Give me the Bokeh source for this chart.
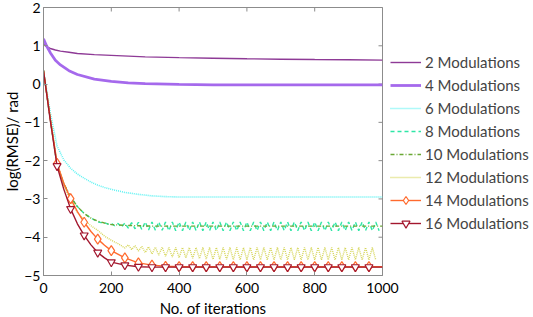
import math
from bokeh.plotting import figure
from bokeh.models import Range1d, FixedTicker, Legend, LegendItem
from bokeh.embed import file_html
from bokeh.resources import INLINE

# ---------------- data ----------------
x_top = [0, 5, 10, 20, 35, 50, 75, 100, 150, 200, 250, 300, 400, 500, 600, 700, 800, 900, 1000]
mod2 = [1.05, 1.00, 0.97, 0.93, 0.89, 0.86, 0.83, 0.80, 0.77, 0.75, 0.73, 0.71, 0.69, 0.675, 0.66, 0.65, 0.64, 0.635, 0.625]
mod4 = [1.18, 1.08, 0.98, 0.82, 0.62, 0.50, 0.35, 0.25, 0.13, 0.07, 0.03, 0.01, -0.01, -0.02, -0.02, -0.02, -0.02, -0.02, -0.02]

x6 = [0, 20, 40, 60, 80, 100, 120, 140, 160, 180, 200, 240, 280, 320, 360, 400, 500, 600, 700, 800, 900, 1000]
mod6 = [0.35, -0.75, -1.62, -1.98, -2.20, -2.35, -2.46, -2.56, -2.64, -2.70, -2.75, -2.83, -2.88, -2.92, -2.94, -2.95, -2.95, -2.95, -2.95, -2.95, -2.95, -2.95]

x8 = [0, 20, 40, 60, 80, 100, 120, 140, 150] + list(range(160, 1001, 10))
mod8 = [0.35, -0.92, -2.12, -2.62, -2.95, -3.20, -3.38, -3.50, -3.55,
        -3.60, -3.62, -3.62, -3.66, -3.64, -3.70, -3.64, -3.74, -3.63, -3.76,
        -3.62, -3.78, -3.61, -3.80, -3.60, -3.81, -3.60, -3.82, -3.60, -3.82,
        -3.60, -3.83, -3.60, -3.83, -3.60, -3.83, -3.60, -3.83, -3.60, -3.83,
        -3.60, -3.83, -3.60, -3.83, -3.60, -3.83, -3.60, -3.83, -3.60, -3.83,
        -3.60, -3.83, -3.60, -3.83, -3.60, -3.83, -3.60, -3.83, -3.60, -3.83,
        -3.60, -3.83, -3.60, -3.83, -3.60, -3.83, -3.60, -3.83, -3.60, -3.83,
        -3.60, -3.83, -3.60, -3.83, -3.60, -3.83, -3.60, -3.83, -3.60, -3.83,
        -3.60, -3.83, -3.60, -3.83, -3.60, -3.83, -3.60, -3.83, -3.60, -3.83,
        -3.60, -3.83, -3.60, -3.83]

x10 = [0, 20, 40, 60, 80, 100, 120, 140, 160, 180, 200, 240, 280, 320, 400, 500, 600, 700, 800, 900, 1000]
mod10 = [0.35, -0.92, -2.10, -2.60, -2.95, -3.20, -3.38, -3.50, -3.58, -3.63, -3.67, -3.69, -3.70, -3.71, -3.71, -3.71, -3.71, -3.71, -3.71, -3.71, -3.71]

x12 = [0, 20, 40, 60, 80, 100, 120, 140, 160, 180, 200, 220] + list(range(240, 1001, 10))
mod12 = [0.35, -0.90, -2.05, -2.65, -3.05, -3.35, -3.55, -3.70, -3.82, -3.97, -4.08, -4.17,
         -4.28, -4.20, -4.32, -4.22, -4.36, -4.24, -4.40, -4.25, -4.44, -4.26,
         -4.47, -4.26, -4.50, -4.27, -4.52, -4.27, -4.53, -4.27, -4.54, -4.27,
         -4.55, -4.27, -4.56, -4.27, -4.57, -4.27, -4.58, -4.27, -4.58, -4.27,
         -4.58, -4.27, -4.59, -4.27, -4.59, -4.27, -4.59, -4.27, -4.59, -4.27,
         -4.59, -4.27, -4.59, -4.27, -4.59, -4.27, -4.59, -4.27, -4.59, -4.27,
         -4.59, -4.27, -4.59, -4.27, -4.59, -4.27, -4.59, -4.27, -4.59, -4.27,
         -4.59, -4.27, -4.59, -4.27, -4.59, -4.27, -4.59, -4.27, -4.59, -4.27,
         -4.59, -4.27, -4.59, -4.27, -4.59]

x14 = [0, 20, 40, 60, 80, 100, 120, 140, 160, 180, 200, 240, 280, 320, 360, 400, 440, 480, 520, 560, 600, 640, 680, 720, 760, 800, 840, 880, 920, 960, 1000]
mod14 = [0.35, -0.90, -2.07, -2.60, -2.99, -3.33, -3.61, -3.85, -4.05, -4.21, -4.35, -4.54, -4.67, -4.73, -4.76, -4.77, -4.77, -4.77, -4.77, -4.77, -4.77, -4.77, -4.77, -4.77, -4.77, -4.77, -4.77, -4.77, -4.77, -4.77, -4.77]

x16 = [0, 20, 40, 60, 80, 100, 120, 140, 160, 180, 200, 240, 280, 320, 360, 400, 440, 480, 520, 560, 600, 640, 680, 720, 760, 800, 840, 880, 920, 960, 1000]
mod16 = [0.35, -0.95, -2.14, -2.75, -3.26, -3.65, -3.95, -4.20, -4.40, -4.54, -4.65, -4.73, -4.77, -4.78, -4.78, -4.78, -4.78, -4.78, -4.78, -4.78, -4.78, -4.78, -4.78, -4.78, -4.78, -4.78, -4.78, -4.78, -4.78, -4.78, -4.78]

marker_step = 40

labels = ["2 Modulations", "4 Modulations", "6 Modulations", "8 Modulations",
          "10 Modulations", "12 Modulations", "14 Modulations", "16 Modulations"]
x_ticks = [0, 200, 400, 600, 800, 1000]
y_ticks = [-5, -4, -3, -2, -1, 0, 1, 2]

FONT = "Lato"
AXC = "#8c8c8c"

p = figure(output_backend="svg", toolbar_location=None,
           frame_width=339, frame_height=268,
           min_border_left=0, min_border_top=7, min_border_bottom=0, min_border_right=0,
           x_range=Range1d(x_ticks[0], x_ticks[-1]), y_range=Range1d(y_ticks[0], y_ticks[-1]))
p.background_fill_color = "white"
p.xgrid.visible = False
p.ygrid.visible = False
p.outline_line_color = AXC
p.outline_line_width = 1

for ax in (p.xaxis[0], p.yaxis[0]):
    ax.axis_line_color = AXC
    ax.major_tick_line_color = AXC
    ax.major_tick_in = 4
    ax.major_tick_out = 0
    ax.minor_tick_line_color = None
    ax.major_label_text_font = FONT
    ax.major_label_text_font_size = "14px"
    ax.major_label_text_color = "black"
    ax.axis_label_text_font = FONT
    ax.axis_label_text_font_size = "15px"
    ax.axis_label_text_font_style = "normal"
    ax.axis_label_text_color = "black"
p.xaxis.ticker = FixedTicker(ticks=x_ticks)
p.yaxis.ticker = FixedTicker(ticks=y_ticks)
p.xaxis.axis_label = "No. of iterations"
p.yaxis.axis_label = "log(RMSE)/ rad"
p.xaxis.major_label_standoff = 7
p.xaxis.axis_label_standoff = 3
p.yaxis.major_label_standoff = 3
p.yaxis.axis_label_standoff = 0

# inward ticks on the top and right edges of the box
p.scatter(x_ticks, [y_ticks[-1]] * len(x_ticks), marker="dash", angle=math.pi / 2,
          size=8, line_color=AXC, line_width=1)
p.scatter([x_ticks[-1]] * len(y_ticks), y_ticks, marker="dash",
          size=8, line_color=AXC, line_width=1)

r2 = p.line(x_top, mod2, line_color="#8e3a96", line_width=1.4)
r4 = p.line(x_top, mod4, line_color="#a569ec", line_width=2.8)
r6 = p.line(x6, mod6, line_color="#5ef2f2", line_width=1.6, line_dash="1 1")
r8 = p.line(x8, mod8, line_color="#2ee6a6", line_width=1.4, line_dash="4 3")
r10 = p.line(x10, mod10, line_color="#6aa834", line_width=1.4, line_dash="4 2 1 2")
r12 = p.line(x12, mod12, line_color="#d6d65a", line_width=1.4, line_dash="1 1")

m14 = [(x, y) for x, y in zip(x14, mod14) if x > 0 and x % marker_step == 0 and x < 1000]
m16 = [(x, y) for x, y in zip(x16, mod16) if x > 0 and x % marker_step == 0 and x < 1000]
r14 = p.line(x14, mod14, line_color="#ff6a2e", line_width=1.4)
s14 = p.scatter([a for a, b in m14], [b for a, b in m14], marker="diamond", size=10,
                fill_color="white", line_color="#ff6a2e", line_width=1.2)
r16 = p.line(x16, mod16, line_color="#a3172e", line_width=1.4)
s16 = p.scatter([a for a, b in m16], [b for a, b in m16], marker="inverted_triangle", size=8,
                fill_color="white", line_color="#a3172e", line_width=1.2)

renders = [[r2], [r4], [r6], [r8], [r10], [r12], [r14, s14], [r16, s16]]
items = [LegendItem(label=l, renderers=r) for l, r in zip(labels, renders)]
legend = Legend(items=items, location=(8, 42), glyph_width=31, glyph_height=20,
                spacing=3, padding=0, margin=0, label_standoff=4,
                label_text_font=FONT, label_text_font_size="15px",
                border_line_color=None, background_fill_alpha=0)
p.add_layout(legend, "right")

open("out.html", "w").write(file_html(p, INLINE))
